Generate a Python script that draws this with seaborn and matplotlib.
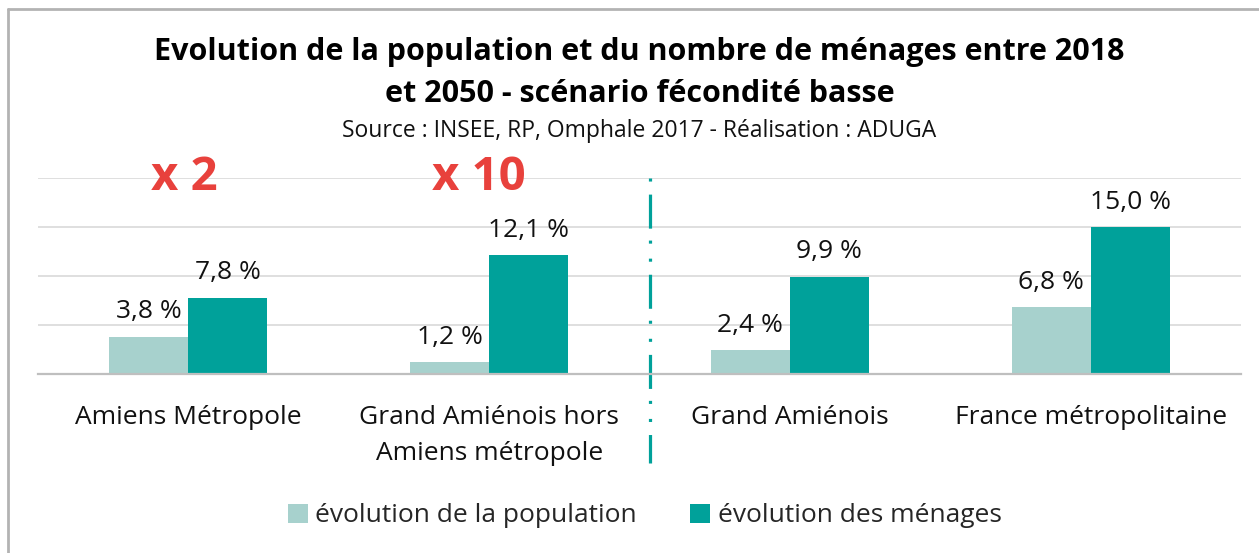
import matplotlib
matplotlib.use("Agg")
import matplotlib.pyplot as plt
from matplotlib.lines import Line2D
from matplotlib.patches import Patch
import matplotlib.transforms as mtransforms
import pandas as pd
import seaborn as sns

# data
categories = ["Amiens Métropole", "Grand Amiénois hors\nAmiens métropole",
              "Grand Amiénois", "France métropolitaine"]
series = ["évolution de la population", "évolution des ménages"]
population = [3.8, 1.2, 2.4, 6.8]
menages = [7.8, 12.1, 9.9, 15.0]
ratios = ["x 2", "x 10"]

colors = ["#A7D1CD", "#00A19A"]

sns.set_theme(style="white")
plt.rcParams['font.family'] = ['Open Sans', 'DejaVu Sans']
plt.rcParams['lines.scale_dashes'] = False

df = pd.DataFrame({
    "cat": categories * 2,
    "serie": [series[0]] * 4 + [series[1]] * 4,
    "val": population + menages,
})

W, H = 1259, 553
fig = plt.figure(figsize=(W / 100, H / 100), dpi=100)
ax = fig.add_axes([38 / W, 1 - 374 / H, (1241 - 38) / W, (374 - 178) / H])

sns.barplot(data=df, x="cat", y="val", hue="serie", hue_order=series,
            order=categories, palette=colors, width=0.525, gap=0,
            saturation=1, linewidth=0, ax=ax, legend=False)

ax.set_xlim(-0.5, 3.5)
ax.set_ylim(0, 20)
ax.set_yticks([5, 10, 15, 20])
ax.set_yticklabels([])
ax.yaxis.grid(True, color="#D9D9D9", lw=1.2)
ax.set_axisbelow(True)
for s in ["top", "right", "left"]:
    ax.spines[s].set_visible(False)
ax.spines["bottom"].set_color("#BFBFBF")
ax.spines["bottom"].set_linewidth(1.6)
ax.tick_params(axis="both", length=0)
ax.tick_params(axis="x", pad=22, labelsize=19, labelcolor="#111111")
ax.tick_params(axis="y", length=0, pad=0)
for t in ax.get_xticklabels():
    t.set_linespacing(1.58)
ax.set_xlabel("")
ax.set_ylabel("")

for cont in ax.containers:
    labels = [f"{b.get_height():.1f} %".replace(".", ",") for b in cont]
    ax.bar_label(cont, labels=labels, padding=9, fontsize=19, color="#111111")

# ratio annotations
trans = mtransforms.blended_transform_factory(ax.transData, ax.transAxes)
ax.text(-0.012, 1.0, ratios[0], transform=trans, ha="center", va="center",
        fontsize=34, fontweight="bold", color="#E8413C")
ax.text(0.965, 1.0, ratios[1], transform=trans, ha="center", va="center",
        fontsize=34, fontweight="bold", color="#E8413C")

# separator line (dot, dash, dot pattern, lengths in points)
sep = Line2D([1.535, 1.535], [1.0, -0.455], transform=trans, color="#00A19A",
             lw=2.3, clip_on=False, solid_capstyle="butt", dash_capstyle="butt")
sep.set_linestyle((0, (2.2, 9.4, 24.5, 8.6, 2.2, 10.8)))
ax.add_line(sep)

# titles
fig.text(0.508, 1 - 52 / H, "Evolution de la population et du nombre de ménages entre 2018",
         ha="center", va="center", fontsize=22, fontweight="bold", color="#000000")
fig.text(0.508, 1 - 94 / H, "et 2050 - scénario fécondité basse",
         ha="center", va="center", fontsize=22, fontweight="bold", color="#000000")
fig.text(0.508, 1 - 131 / H, "Source : INSEE, RP, Omphale 2017 - Réalisation : ADUGA",
         ha="center", va="center", fontsize=16.5, color="#111111")

handles = [Patch(facecolor=c, edgecolor="none") for c in colors]
fig.legend(handles, series, loc="center", bbox_to_anchor=(0.512, 1 - 516 / H), ncol=2,
           frameon=False, fontsize=19, handlelength=0.75, handleheight=0.75,
           handletextpad=0.3, columnspacing=2.0)

# chart frame (top and left edges)
fig.add_artist(Line2D([8 / W, 1.0], [1 - 9 / H, 1 - 9 / H], transform=fig.transFigure,
                      color="#B3B3B3", lw=2))
fig.add_artist(Line2D([8 / W, 8 / W], [1 - 9 / H, 0], transform=fig.transFigure,
                      color="#B3B3B3", lw=2))

fig.savefig("out.png", dpi=100)
